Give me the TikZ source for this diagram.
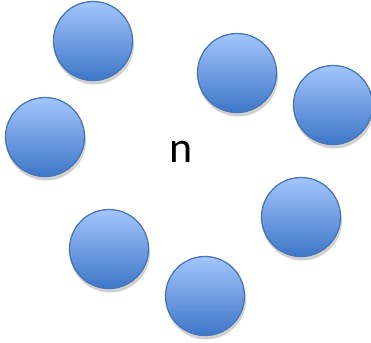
\documentclass[tikz,border=0pt]{standalone}
\usepackage{fontspec}
\setmainfont{Carlito}
\definecolor{ctop}{RGB}{162,198,252}
\definecolor{cbot}{RGB}{62,118,200}
\definecolor{cedge}{RGB}{72,118,182}
\tikzset{
  ball/.style={circle, minimum size=79pt, inner sep=0pt, draw=cedge, line width=1.3pt,
    top color=ctop, bottom color=cbot},
  shade/.style={circle, minimum size=80pt, inner sep=0pt, fill=black, opacity=0.18}
}
\begin{document}
\begin{tikzpicture}[x=1pt,y=1pt]
\useasboundingbox (0,0) rectangle (371,-342);
\foreach \x/\y in {93/41,45/137,237/73,333/105,109/249,301/217,205/296}{
  \node[shade] at (\x+1,-\y-3.5) {};
}
\node[ball] (b1) at (93,-41) {};
\node[ball] (b2) at (45,-137) {};
\node[ball] (b3) at (237,-73) {};
\node[ball] (b4) at (333,-105) {};
\node[ball] (b5) at (109,-249) {};
\node[ball] (b6) at (301,-217) {};
\node[ball] (b7) at (205,-296) {};
\node[font=\fontsize{44}{50}\selectfont] (n) at (181,-152) {n};
\end{tikzpicture}
\end{document}
